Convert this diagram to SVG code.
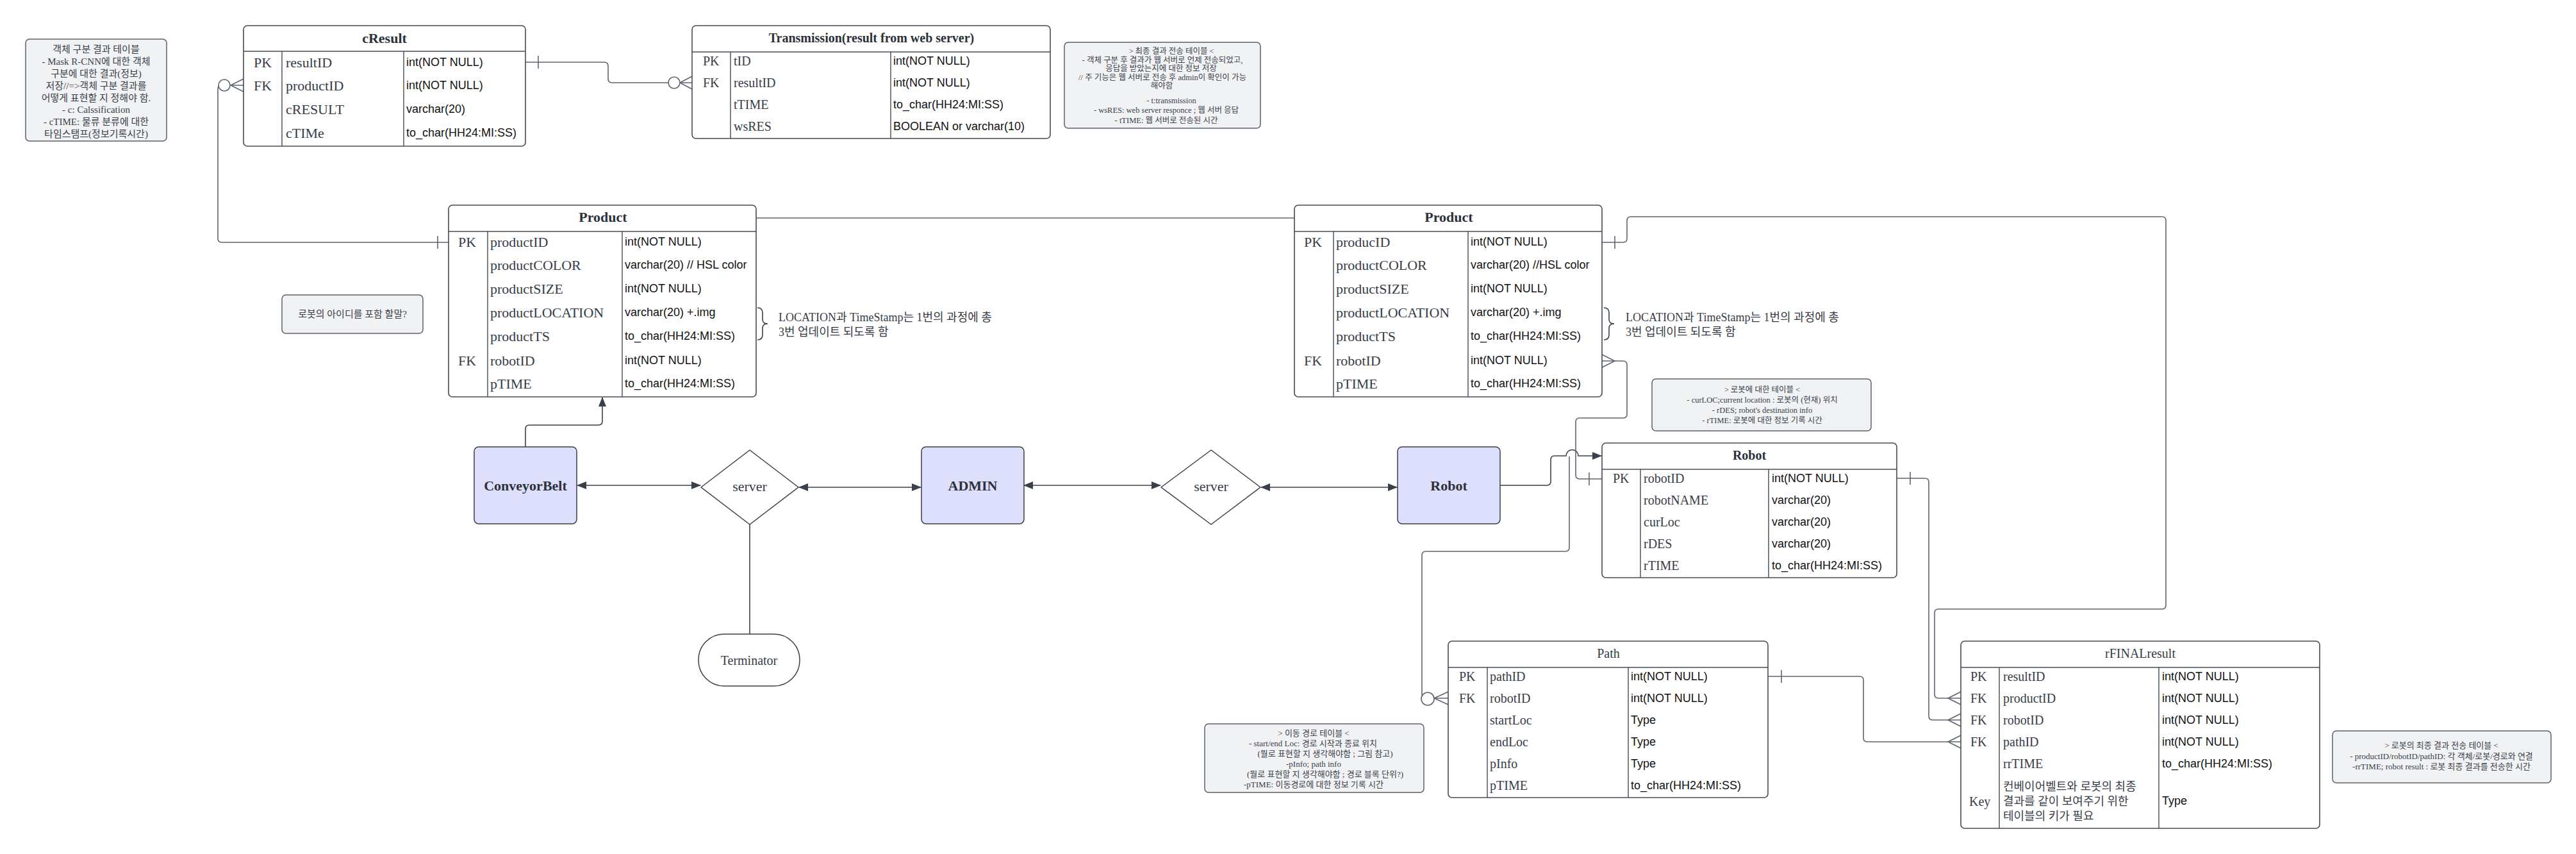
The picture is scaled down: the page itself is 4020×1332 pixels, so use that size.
<svg xmlns="http://www.w3.org/2000/svg" width="4020" height="1332" viewBox="0 0 4020 1332">
<style>
.bg{fill:#ffffff}
.tbl{fill:#ffffff;stroke:#454c57;stroke-width:1.6}
.dv{stroke:#454c57;stroke-width:1.4;fill:none}
.note{fill:#f1f2f4;stroke:#5a616c;stroke-width:1.5}
.node{fill:#dedffc;stroke:#3a404a;stroke-width:1.5}
.shape{fill:#ffffff;stroke:#3a404a;stroke-width:1.5;stroke-linejoin:round}
.conn{fill:none;stroke:#5f6570;stroke-width:1.6}
.arr{fill:none;stroke:#3a404a;stroke-width:1.6}
.cw{fill:#ffffff;stroke:#5f6570;stroke-width:1.6}
text{dominant-baseline:central}
.s{font-family:"Liberation Serif","Noto Sans CJK KR",serif;fill:#363c47}
.t{font-family:"Liberation Sans","Noto Sans CJK KR",sans-serif;fill:#111111;font-size:18px}
.ttl{font-family:"Liberation Serif","Noto Sans CJK KR",serif;fill:#2b313b;font-weight:bold;text-anchor:middle}
.r22{font-size:22px}
.r20{font-size:20px}
.nt{font-family:"Liberation Serif","Noto Sans CJK KR",serif;fill:#3a404a;text-anchor:middle}
.k{font-family:"Liberation Serif","Noto Sans CJK KR",serif;fill:#3a404a;font-size:18px}
</style>
<defs>
<marker id="ah" markerWidth="15" markerHeight="12" refX="14" refY="6" orient="auto-start-reverse" markerUnits="userSpaceOnUse">
<path d="M0,0 L15,6 L0,12 z" fill="#3a404a"/>
</marker>
</defs>
<rect class="bg" x="0" y="0" width="4020" height="1332"/>

<!-- Notes -->
<g id="note-cresult">
<rect class="note" x="40" y="61" width="220" height="159" rx="6"/>
<g class="nt" font-size="15">
<text x="150" y="77">객체 구분 결과 테이블</text>
<text x="150" y="96">- Mask R-CNN에 대한 객체</text>
<text x="150" y="115">구분에 대한 결과(정보)</text>
<text x="150" y="134">저장//=&gt;객체 구분 결과를</text>
<text x="150" y="153">어떻게 표현할 지 정해야 함.</text>
<text x="150" y="171">- c: Calssification</text>
<text x="150" y="190">- cTIME: 물류 분류에 대한</text>
<text x="150" y="209">타임스탬프(정보기록시간)</text>
</g>
</g>

<g id="note-transmission">
<rect class="note" x="1661" y="66" width="306" height="134" rx="6"/>
<g class="nt" font-size="12.5">
<text x="1828" y="80">&gt; 최종 결과 전송 테이블 &lt;</text>
<text x="1814" y="94">- 객체 구분 후 결과가 웹 서버로 언제 전송되었고,</text>
<text x="1812" y="107">응답을 받았는지에 대한 정보 저장</text>
<text x="1814" y="121">// 주 기능은 웹 서버로 전송 후 admin이 확인이 가능</text>
<text x="1813" y="134">해야함</text>
<text x="1828" y="157">- t:transmission</text>
<text x="1820" y="172">- wsRES: web server responce ; 웹 서버 응답</text>
<text x="1820" y="188">- tTIME: 웹 서버로 전송된 시간</text>
</g>
</g>

<g id="note-robotid">
<rect class="note" x="440" y="460" width="220" height="60" rx="6"/>
<text class="nt" x="550" y="490" font-size="15">로봇의 아이디를 포함 할말?</text>
</g>

<g id="note-robot">
<rect class="note" x="2578" y="591" width="342" height="81" rx="6"/>
<g class="nt" font-size="12.5">
<text x="2750" y="608">&gt; 로봇에 대한 테이블 &lt;</text>
<text x="2750" y="624">- curLOC;current location : 로봇의 (현재) 위치</text>
<text x="2750" y="640">- rDES; robot's destination info</text>
<text x="2750" y="656">- rTIME: 로봇에 대한 정보 기록 시간</text>
</g>
</g>

<g id="note-path">
<rect class="note" x="1880" y="1129" width="342" height="107" rx="6"/>
<g class="nt" font-size="13">
<text x="2050" y="1143">&gt; 이동 경로 테이블 &lt;</text>
<text x="2049" y="1159">- start/end Loc: 경로 시작과 종료 위치</text>
<text x="2068" y="1175">(뭘로 표현할 지 생각해야함 ; 그림 참고)</text>
<text x="2050" y="1191">-pInfo; path info</text>
<text x="2068" y="1207">(뭘로 표현할 지 생각해야함 ; 경로 블록 단위?)</text>
<text x="2050" y="1223">-pTIME: 이동경로에 대한 정보 기록 시간</text>
</g>
</g>

<g id="note-final">
<rect class="note" x="3640" y="1140" width="341" height="81" rx="6"/>
<g class="nt" font-size="13">
<text x="3810" y="1162">&gt; 로봇의 최종 결과 전송 테이블 &lt;</text>
<text x="3810" y="1179">- productID/robotID/pathID: 각 객체/로봇/경로와 연결</text>
<text x="3810" y="1195">-rrTIME; robot result : 로봇 최종 결과를 전송한 시간</text>
</g>
</g>

<!-- Connectors -->
<g id="connectors">
<!-- cResult FK productID -> Product PK -->
<path class="conn" d="M380,133 H346 Q340,133 340,139 V372 Q340,378 346,378 H700"/>
<path class="conn" d="M380,123 L360,133 L380,143"/>
<circle class="cw" cx="350" cy="133" r="9"/>
<path class="conn" d="M683,368 V388"/>
<!-- cResult PK -> Transmission FK -->
<path class="conn" d="M820,97 H943 Q949,97 949,103 V123 Q949,129 955,129 H1080"/>
<path class="conn" d="M840,87 V107"/>
<path class="conn" d="M1080,119 L1061,129 L1080,139"/>
<circle class="cw" cx="1052" cy="129" r="9"/>
<!-- Product - Product -->
<path class="conn" d="M1180,340 H2020"/>
<!-- ConveyorBelt -> Product -->
<path class="arr" d="M820,697 V669 Q820,663 826,663 H934 Q940,663 940,657 V620" marker-end="url(#ah)"/>
<!-- flow arrows -->
<path class="arr" d="M901,757 H1093" marker-start="url(#ah)" marker-end="url(#ah)"/>
<path class="arr" d="M1247,760 H1437" marker-start="url(#ah)" marker-end="url(#ah)"/>
<path class="arr" d="M1598,757 H1811" marker-start="url(#ah)" marker-end="url(#ah)"/>
<path class="arr" d="M1968,760 H2180" marker-start="url(#ah)" marker-end="url(#ah)"/>
<!-- server -> Terminator -->
<path class="arr" d="M1170,818 V989"/>
<!-- Robot -> Robot table -->
<path class="arr" d="M2341,757 H2414 Q2420,757 2420,751 V717 Q2420,711 2426,711 H2444 A9.5,9.5 0 0 1 2463,711 H2499" marker-end="url(#ah)"/>
<!-- Path FK robotID -> -->
<path class="conn" d="M2260,1089 H2225 Q2219,1089 2219,1083 V866 Q2219,860 2225,860 H2443 Q2449,860 2449,854 V712"/>
<path class="conn" d="M2260,1079 L2238,1089 L2260,1099"/>
<circle class="cw" cx="2228" cy="1090" r="10"/>
<!-- Product FK robotID -> Robot PK -->
<path class="conn" d="M2500,563 H2533 Q2539,563 2539,569 V646 Q2539,652 2533,652 H2465 Q2459,652 2459,658 V741 Q2459,747 2465,747 H2500"/>
<path class="conn" d="M2500,553 L2520,563 L2500,573"/>
<path class="conn" d="M2480,737 V757"/>
<!-- Product PK -> rFINALresult FK productID -->
<path class="conn" d="M2500,378 H2533 Q2539,378 2539,372 V344 Q2539,338 2545,338 H3374 Q3380,338 3380,344 V944 Q3380,950 3374,950 H3025 Q3019,950 3019,956 V1083 Q3019,1089 3025,1089 H3060"/>
<path class="conn" d="M2520,368 V388"/>
<path class="conn" d="M3060,1079 L3040,1089 L3060,1099"/>
<!-- Robot PK -> rFINALresult FK robotID -->
<path class="conn" d="M2960,746 H3004 Q3010,746 3010,752 V1117 Q3010,1123 3016,1123 H3060"/>
<path class="conn" d="M2981,736 V756"/>
<path class="conn" d="M3060,1113 L3040,1123 L3060,1133"/>
<!-- Path PK -> rFINALresult FK pathID -->
<path class="conn" d="M2759,1055 H2902 Q2908,1055 2908,1061 V1151 Q2908,1157 2914,1157 H3060"/>
<path class="conn" d="M2780,1045 V1065"/>
<path class="conn" d="M3060,1147 L3040,1157 L3060,1167"/>
<!-- braces -->
<path class="arr" d="M1182,480 Q1190,480 1190,488 V498 Q1190,505 1198,505 Q1190,505 1190,512 V522 Q1190,530 1182,530"/>
<path class="arr" d="M2503,480 Q2511,480 2511,488 V498 Q2511,505 2519,505 Q2511,505 2511,512 V522 Q2511,530 2503,530"/>
</g>

<!-- annotations -->
<g id="annot-left" class="s" font-size="18">
<text x="1215" y="495">LOCATION과 TimeStamp는 1번의 과정에 총</text>
<text x="1215" y="518">3번 업데이트 되도록 함</text>
</g>
<g id="annot-right" class="s" font-size="18">
<text x="2537" y="495">LOCATION과 TimeStamp는 1번의 과정에 총</text>
<text x="2537" y="518">3번 업데이트 되도록 함</text>
</g>

<!-- cResult -->
<g id="cResult">
<rect class="tbl" x="380" y="40" width="440" height="188" rx="6"/>
<path class="dv" d="M380,80 H820 M440,80 V228 M630,80 V228"/>
<text class="ttl r22" x="600" y="59">cResult</text>
<g class="s r22">
<text x="396" y="97">PK</text><text x="446" y="97">resultID</text>
<text x="396" y="133">FK</text><text x="446" y="133">productID</text>
<text x="446" y="170">cRESULT</text>
<text x="446" y="207">cTIMe</text>
</g>
<g class="t">
<text x="634" y="97">int(NOT NULL)</text>
<text x="634" y="133">int(NOT NULL)</text>
<text x="634" y="170">varchar(20)</text>
<text x="634" y="207">to_char(HH24:MI:SS)</text>
</g>
</g>

<!-- Transmission -->
<g id="Transmission">
<rect class="tbl" x="1080" y="40" width="559" height="176" rx="6"/>
<path class="dv" d="M1080,81 H1639 M1140,81 V216 M1390,81 V216"/>
<text class="ttl r20" x="1360" y="59">Transmission(result from web server)</text>
<g class="s r20">
<text x="1097" y="95">PK</text><text x="1145" y="95">tID</text>
<text x="1097" y="129">FK</text><text x="1145" y="129">resultID</text>
<text x="1145" y="163">tTIME</text>
<text x="1145" y="197">wsRES</text>
</g>
<g class="t">
<text x="1394" y="95">int(NOT NULL)</text>
<text x="1394" y="129">int(NOT NULL)</text>
<text x="1394" y="163">to_char(HH24:MI:SS)</text>
<text x="1394" y="197">BOOLEAN or varchar(10)</text>
</g>
</g>

<!-- Product left -->
<g id="ProductA">
<rect class="tbl" x="700" y="320" width="480" height="299" rx="6"/>
<path class="dv" d="M700,361 H1180 M761,361 V619 M971,361 V619"/>
<text class="ttl r22" x="941" y="338">Product</text>
<g class="s r22">
<text x="715" y="377">PK</text><text x="765" y="377">productID</text>
<text x="765" y="413">productCOLOR</text>
<text x="765" y="450">productSIZE</text>
<text x="765" y="487">productLOCATION</text>
<text x="765" y="524">productTS</text>
<text x="715" y="562">FK</text><text x="765" y="562">robotID</text>
<text x="765" y="598">pTIME</text>
</g>
<g class="t">
<text x="975" y="377">int(NOT NULL)</text>
<text x="975" y="413">varchar(20) // HSL color</text>
<text x="975" y="450">int(NOT NULL)</text>
<text x="975" y="487">varchar(20) +.img</text>
<text x="975" y="524">to_char(HH24:MI:SS)</text>
<text x="975" y="562">int(NOT NULL)</text>
<text x="975" y="598">to_char(HH24:MI:SS)</text>
</g>
</g>

<!-- Product right -->
<g id="ProductB">
<rect class="tbl" x="2020" y="320" width="480" height="299" rx="6"/>
<path class="dv" d="M2020,361 H2500 M2081,361 V619 M2291,361 V619"/>
<text class="ttl r22" x="2261" y="338">Product</text>
<g class="s r22">
<text x="2035" y="377">PK</text><text x="2085" y="377">producID</text>
<text x="2085" y="413">productCOLOR</text>
<text x="2085" y="450">productSIZE</text>
<text x="2085" y="487">productLOCATION</text>
<text x="2085" y="524">productTS</text>
<text x="2035" y="562">FK</text><text x="2085" y="562">robotID</text>
<text x="2085" y="598">pTIME</text>
</g>
<g class="t">
<text x="2295" y="377">int(NOT NULL)</text>
<text x="2295" y="413">varchar(20) //HSL color</text>
<text x="2295" y="450">int(NOT NULL)</text>
<text x="2295" y="487">varchar(20) +.img</text>
<text x="2295" y="524">to_char(HH24:MI:SS)</text>
<text x="2295" y="562">int(NOT NULL)</text>
<text x="2295" y="598">to_char(HH24:MI:SS)</text>
</g>
</g>

<!-- Flow nodes -->
<g id="ConveyorBelt">
<rect class="node" x="740" y="697" width="160" height="120" rx="7"/>
<text class="ttl r22" x="820" y="757">ConveyorBelt</text>
</g>
<g id="server1">
<polygon class="shape" points="1170,702 1246,760 1170,818 1094,760"/>
<text class="s" x="1170" y="758" font-size="22" text-anchor="middle">server</text>
</g>
<g id="ADMIN">
<rect class="node" x="1438" y="697" width="160" height="120" rx="7"/>
<text class="ttl r22" x="1518" y="757">ADMIN</text>
</g>
<g id="server2">
<polygon class="shape" points="1890,702 1967,760 1890,818 1812,760"/>
<text class="s" x="1890" y="758" font-size="22" text-anchor="middle">server</text>
</g>
<g id="RobotNode">
<rect class="node" x="2181" y="697" width="160" height="120" rx="7"/>
<text class="ttl r22" x="2261" y="757">Robot</text>
</g>
<g id="Terminator">
<rect class="shape" x="1090" y="989" width="158" height="81" rx="40" ry="40"/>
<text class="s" x="1169" y="1030" font-size="20" text-anchor="middle">Terminator</text>
</g>

<!-- Robot table -->
<g id="RobotTable">
<rect class="tbl" x="2500" y="691" width="460" height="210" rx="6"/>
<path class="dv" d="M2500,732 H2960 M2560,732 V901 M2760,732 V901"/>
<text class="ttl r20" x="2730" y="710">Robot</text>
<g class="s r20">
<text x="2517" y="746">PK</text><text x="2565" y="746">robotID</text>
<text x="2565" y="780">robotNAME</text>
<text x="2565" y="814">curLoc</text>
<text x="2565" y="848">rDES</text>
<text x="2565" y="882">rTIME</text>
</g>
<g class="t">
<text x="2765" y="746">int(NOT NULL)</text>
<text x="2765" y="780">varchar(20)</text>
<text x="2765" y="814">varchar(20)</text>
<text x="2765" y="848">varchar(20)</text>
<text x="2765" y="882">to_char(HH24:MI:SS)</text>
</g>
</g>

<!-- Path table -->
<g id="Path">
<rect class="tbl" x="2260" y="1000" width="499" height="244" rx="6"/>
<path class="dv" d="M2260,1041 H2759 M2321,1041 V1244 M2541,1041 V1244"/>
<text class="s r20" x="2510" y="1019" text-anchor="middle">Path</text>
<g class="s r20">
<text x="2277" y="1055">PK</text><text x="2325" y="1055">pathID</text>
<text x="2277" y="1089">FK</text><text x="2325" y="1089">robotID</text>
<text x="2325" y="1123">startLoc</text>
<text x="2325" y="1157">endLoc</text>
<text x="2325" y="1191">pInfo</text>
<text x="2325" y="1225">pTIME</text>
</g>
<g class="t">
<text x="2545" y="1055">int(NOT NULL)</text>
<text x="2545" y="1089">int(NOT NULL)</text>
<text x="2545" y="1123">Type</text>
<text x="2545" y="1157">Type</text>
<text x="2545" y="1191">Type</text>
<text x="2545" y="1225">to_char(HH24:MI:SS)</text>
</g>
</g>

<!-- rFINALresult -->
<g id="rFINALresult">
<rect class="tbl" x="3060" y="1000" width="560" height="292" rx="6"/>
<path class="dv" d="M3060,1041 H3620 M3120,1041 V1292 M3369,1041 V1292"/>
<text class="s r20" x="3340" y="1019" text-anchor="middle">rFINALresult</text>
<g class="s r20">
<text x="3075" y="1055">PK</text><text x="3126" y="1055">resultID</text>
<text x="3075" y="1089">FK</text><text x="3126" y="1089">productID</text>
<text x="3075" y="1123">FK</text><text x="3126" y="1123">robotID</text>
<text x="3075" y="1157">FK</text><text x="3126" y="1157">pathID</text>
<text x="3126" y="1191">rrTIME</text>
<text x="3073" y="1250">Key</text>
</g>
<g class="k">
<text x="3126" y="1227">컨베이어벨트와 로봇의 최종</text>
<text x="3126" y="1250">결과를 같이 보여주기 위한</text>
<text x="3126" y="1273">테이블의 키가 필요</text>
</g>
<g class="t">
<text x="3374" y="1055">int(NOT NULL)</text>
<text x="3374" y="1089">int(NOT NULL)</text>
<text x="3374" y="1123">int(NOT NULL)</text>
<text x="3374" y="1157">int(NOT NULL)</text>
<text x="3374" y="1191">to_char(HH24:MI:SS)</text>
<text x="3374" y="1249">Type</text>
</g>
</g>
</svg>
